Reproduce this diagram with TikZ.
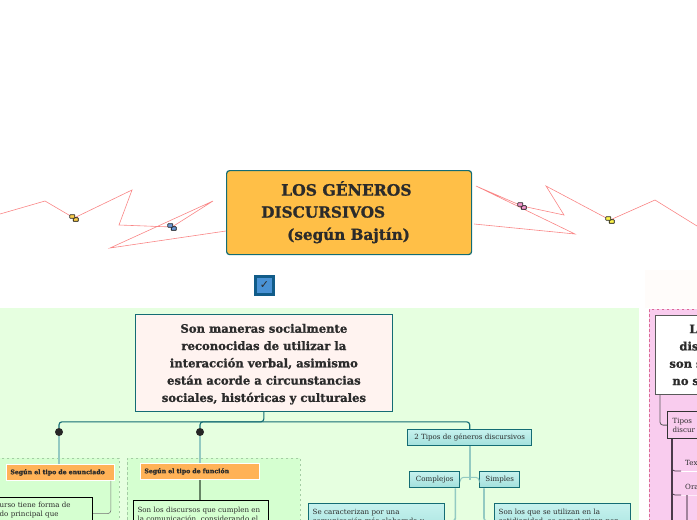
\documentclass[tikz,border=0pt]{standalone}
\usepackage{fontspec}
\setmainfont[BoldFeatures={FakeBold=1.1}]{DejaVu Serif}
\newfontfamily\symfont{DejaVu Sans}
\usetikzlibrary{arrows.meta,positioning,calc,shapes.geometric}
\definecolor{tealline}{HTML}{146C74}
\definecolor{redline}{HTML}{F98686}
\definecolor{softline}{HTML}{93CAC2}
\definecolor{inktext}{HTML}{2B2B2B}
\definecolor{orangefill}{HTML}{FFBF47}
\definecolor{tagfill}{HTML}{FFB257}
\definecolor{mainfill}{HTML}{FFF3F0}
\definecolor{greenpanel}{HTML}{E6FFE0}
\definecolor{greenin}{HTML}{D5FFD0}
\definecolor{greendash}{HTML}{A4CCA4}
\definecolor{pinkpanel}{HTML}{F9CCEE}
\definecolor{pinkdash}{HTML}{DC6A96}
\definecolor{plumline}{HTML}{4A3A4A}
\definecolor{tealtop}{HTML}{C6F2EE}
\definecolor{tealbot}{HTML}{A2E0DC}
\begin{document}
\begin{tikzpicture}[x=1pt,y=-1pt,
      font=\fontsize{7.1}{9.3}\selectfont,text=inktext,
      rootbox/.style={draw=tealline,line width=1.2pt,rounded corners=3pt,fill=orangefill,
                      anchor=north west,minimum width=245pt,minimum height=84pt,inner sep=0pt},
      rootline/.style={anchor=west,inner sep=0pt,font=\fontsize{#1}{20}\selectfont\bfseries},
      mainbox/.style={draw=tealline,line width=.8pt,fill=mainfill,anchor=north west,align=center,
                      minimum width=257pt,minimum height=97pt,inner sep=0pt,
                      font=\fontsize{11.6}{17.3}\selectfont\bfseries},
      panel/.style={draw=#1,dash pattern=on 2.5pt off 2.5pt,line width=.8pt,anchor=north west,inner sep=0pt},
      tagbox/.style={draw=white,line width=.8pt,fill=tagfill,anchor=north west,
                     minimum height=16pt,inner sep=0pt,text width=#1,align=left,
                     font=\fontsize{6.2}{7}\selectfont\bfseries},
      textbox/.style={draw=black,line width=1.2pt,fill=greenin,anchor=north west,align=left,
                      text width=#1,inner xsep=4pt,inner ysep=5pt},
      tealbox/.style={draw=tealline,line width=1.4pt,top color=tealtop,bottom color=tealbot,
                      anchor=north west,align=center,inner sep=0pt},
      tealtext/.style={tealbox,align=left,text width=#1,inner xsep=4pt,inner ysep=5.5pt},
      dotnode/.style={circle,fill=black!85,inner sep=0pt,minimum size=8pt},
      iconbox/.style={draw=black,line width=.7pt,rounded corners=.5pt,fill=#1,
                      inner sep=0pt,minimum width=5pt,minimum height=3.6pt},
      plainlabel/.style={anchor=south west,inner xsep=4pt,inner ysep=2pt,minimum height=16pt,text width=40pt,align=left},
      redlink/.style={draw=redline,line width=.6pt},
      trunk/.style={draw=tealline,line width=1.1pt,rounded corners=3pt},
      softlink/.style={draw=softline,line width=1.6pt,rounded corners=3pt},
      pluminline/.style={draw=plumline,line width=1.2pt,rounded corners=3pt}]
    \clip (0,0) rectangle (697,520);
    \useasboundingbox (0,0) rectangle (697,520);
    % panels
    \fill[greenpanel] (0,308) rectangle (639,520);
    \fill[orange!2] (645,270) rectangle (697,308);
    \node[panel=greendash,fill=greenin,minimum width=130pt,minimum height=70pt] (panelone) at (-11,458) {};
    \node[panel=greendash,fill=greenin,minimum width=173pt,minimum height=70pt] (paneltwo) at (127,458) {};
    \node[panel=pinkdash,fill=pinkpanel,minimum width=60pt,minimum height=220pt] (panelpink) at (649,309) {};
    % title and free ends of the red lines
    \node[rootbox] (root) at (226,170) {};
    \node[rootline=15.6] (lineone) at (281,188.5) {LOS GÉNEROS};
    \node[rootline=15.3] (linetwo) at (261,212) {DISCURSIVOS};
    \node[rootline=15.2] (linethree) at (287,235.5) {(según Bajtín)};
    \coordinate (leftend) at (0,214);
    \coordinate (rightend) at (697,226);
    \node[inner sep=0pt,minimum size=5pt] (iconblue) at (172,227) {};
    \node[inner sep=0pt,minimum size=5pt] (iconyellow) at (74,218) {};
    \node[inner sep=0pt,minimum size=5pt] (iconpink) at (522,206) {};
    \node[inner sep=0pt,minimum size=5pt] (iconlime) at (610,220) {};
    \draw[redlink] (root.west |- 0,231) -- (110,248) -- (213,201) -- (iconblue.center) -- (119,225) -- (132,190)
      -- (iconyellow.center) -- (45,201) -- (leftend);
    \draw[redlink] ([xshift=2pt]root.east |- 0,224) -- (575,234) -- (476,186) -- (iconpink.center) -- (564,215) -- (546,186)
      -- (iconlime.center) -- (655,200) -- (rightend);
    \foreach \pos/\col in {iconblue/cyan!50!blue!60,iconyellow/yellow!50!orange!70,iconpink/magenta!40,iconlime/yellow!70}{
      \node[iconbox=\col,yshift=-1.5pt,xshift=1.7pt] at (\pos) {};
      \node[iconbox=\col,yshift=1.5pt,xshift=-1.7pt,draw=black!85] at (\pos) {};
    }
    \node[draw=tealline!85!blue,line width=3pt,fill=cyan!60!blue!75,minimum size=18pt,inner sep=0pt,
          font=\symfont\fontsize{11}{11}\selectfont] (check) at (264.5,285) {✓};
    % main branch
    \node[mainbox,text depth=0pt] (main) at (135,314) {Son maneras socialmente\\reconocidas de utilizar la\\interacción verbal,  asimismo\\están acorde a circunstancias\\sociales, históricas y culturales};
    \node[dotnode] (dotone) at (59,432) {};
    \node[dotnode] (dottwo) at (200,432) {};
    \node[tagbox=100pt,minimum width=106pt,inner xsep=4pt] (tagone) at (6,464) {Según el tipo de enunciado};
    \node[tagbox=111pt,minimum width=119pt,inner xsep=4pt] (tagtwo) at (140,463) {Según el tipo de función};
    \node[textbox=89pt,inner ysep=4pt] (enunciado) at (-5,497) {urso tiene forma de\\do principal que\\~};
    \node[textbox=127pt,inner ysep=6pt] (funcion) at (133,500) {Son los discursos que cumplen en\\la comunicación, considerando el};
    \node[tealbox,minimum width=124pt,minimum height=16pt] (tipos) at (407,429) {2 Tipos de géneros discursivos};
    \node[tealbox,minimum width=50pt,minimum height=16pt] (complejos) at (409,471) {Complejos};
    \node[tealbox,minimum width=40pt,minimum height=16pt] (simples) at (479,471) {Simples};
    \node[tealtext=128pt] (compdef) at (308,503) {Se caracterizan por una\\comunicación más elaborada y\\~};
    \node[tealtext=128pt] (simpdef) at (494,503) {Son los que se utilizan en la\\cotidianidad, se caracterizan por\\~};
    \draw[trunk] (main.south) -- ++(0,10) -| (dotone.north);
    \draw[trunk] (main.south) ++(0,10) -| (dottwo.north);
    \draw[trunk] (main.south) ++(0,10) -| (tipos.north);
    \draw[softlink] (dotone.south) -- (tagone.north -| dotone);
    \draw[softlink] (dottwo.south) -- (tagtwo.north -| dottwo);
    \draw[draw=black!55,line width=.6pt,rounded corners=3pt] ([xshift=-4pt]tagone.south east) |- (enunciado.east);
    \draw[draw=green!20!black!60,line width=1.4pt] (tagtwo.south -| dottwo) -- (funcion.north -| dottwo);
    \draw[softlink] (tipos.south) -- ++(0,30) -- ++(0,4);
    \draw[softlink,line width=1pt] (tipos.south) ++(0,31) -| (complejos.east);
    \draw[softlink,line width=1pt] (tipos.south) ++(0,31) -| (simples.west);
    \draw[softlink] ([xshift=-5pt]complejos.south east) |- (compdef.east);
    \draw[softlink] ([xshift=5pt]simples.south west) |- (simpdef.west);
    % right branch, cut by the page edge
    \node[draw=black!65,line width=.8pt,fill=white,anchor=north west,align=left,text width=100pt,minimum height=79pt,
          inner xsep=14pt,inner ysep=0pt,font=\fontsize{11.6}{17.3}\selectfont\bfseries] (genres) at (655,315)
          {\hspace*{20pt}L\\\hspace*{10pt}dis\\son s\\\hspace*{3pt}no s};
    \node[draw=black!80,line width=1.2pt,fill=pinkpanel,anchor=north west,align=left,text width=50pt,
          minimum height=27pt,inner xsep=5pt,inner ysep=0pt] (kinds) at (667,411) {Tipos\\discur};
    \node[plainlabel] (tex) at (681,471) {Tex};
    \node[plainlabel] (ora) at (681,495) {Ora};
    \coordinate (trunkend) at (672,525);
    \coordinate (oraend) at (687,525);
    \draw[draw=white,line width=.8pt] (tex.south west) -- (tex.south east);
    \draw[draw=white!60!pinkpanel,line width=.8pt] (ora.south west) -- (ora.south east);
    \draw[draw=black!65,line width=.8pt,rounded corners=3pt] (genres.south west -| 660,0) |- (kinds.west);
    \draw[pluminline] (kinds.south west -| trunkend) -- (trunkend);
    \draw[pluminline,line width=.7pt] (kinds.south west -| trunkend) |- (tex.south west);
    \draw[pluminline,line width=.7pt] (kinds.south west -| trunkend) |- (ora.south west);
    \draw[draw=plumline!50!pinkpanel,line width=1.2pt] (ora.south west -| oraend) -- (oraend);
  \end{tikzpicture}
\end{document}
